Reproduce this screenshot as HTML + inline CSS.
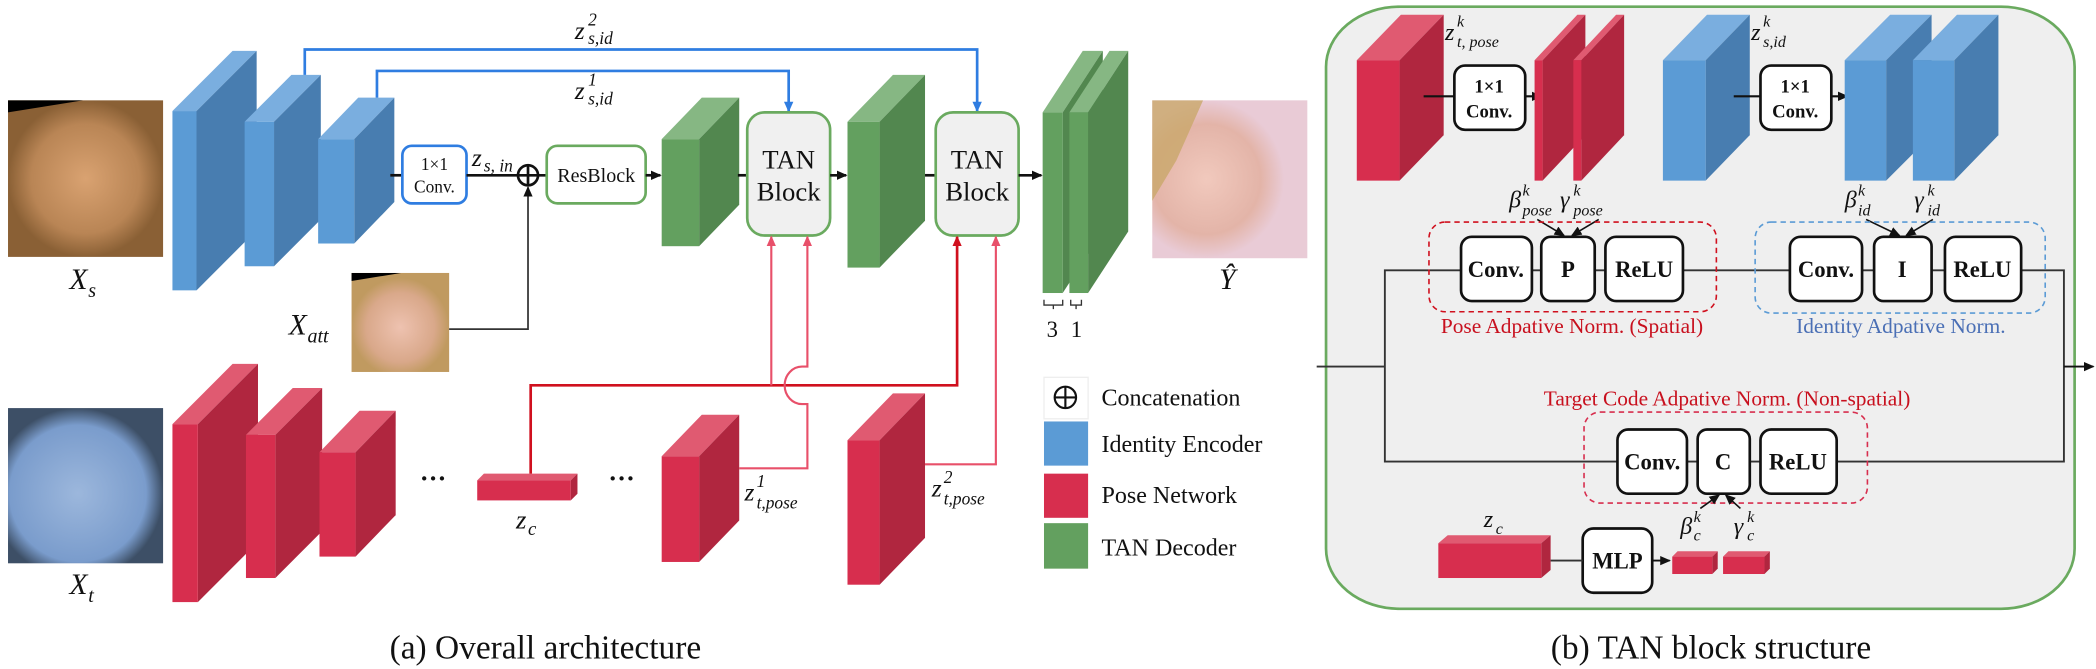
<!DOCTYPE html>
<html><head><meta charset="utf-8"><style>
html,body{margin:0;padding:0;background:#fff;width:2096px;height:669px;overflow:hidden}
svg{display:block}
text{font-family:"Liberation Serif",serif;fill:#111}
.m{font-style:italic}
.b{font-weight:bold}
</style></head><body>
<svg width="2096" height="669" viewBox="0 0 1568 500" preserveAspectRatio="none" xmlns="http://www.w3.org/2000/svg">
<defs>
<marker id="ak" markerWidth="8" markerHeight="8" refX="7" refY="4" orient="auto" markerUnits="userSpaceOnUse"><path d="M0,0.5 L8,4 L0,7.5z" fill="#111"/></marker>
<marker id="ab" markerWidth="8" markerHeight="8" refX="7" refY="4" orient="auto" markerUnits="userSpaceOnUse"><path d="M0,0.5 L8,4 L0,7.5z" fill="#2f7de1"/></marker>
<marker id="ar" markerWidth="8" markerHeight="8" refX="7" refY="4" orient="auto" markerUnits="userSpaceOnUse"><path d="M0,0.5 L8,4 L0,7.5z" fill="#d0101e"/></marker>
<marker id="al" markerWidth="8" markerHeight="8" refX="7" refY="4" orient="auto" markerUnits="userSpaceOnUse"><path d="M0,0.5 L8,4 L0,7.5z" fill="#e8506a"/></marker>
<radialGradient id="f1" cx="50%" cy="50%" r="50%"><stop offset="0" stop-color="#d9a271"/><stop offset="0.7" stop-color="#b98555"/><stop offset="1" stop-color="#8a6035"/></radialGradient>
<radialGradient id="f2" cx="50%" cy="55%" r="50%"><stop offset="0" stop-color="#eec2b0"/><stop offset="0.7" stop-color="#d9a88a"/><stop offset="1" stop-color="#c09a60"/></radialGradient>
<radialGradient id="f3" cx="45%" cy="55%" r="55%"><stop offset="0" stop-color="#9cb7dc"/><stop offset="0.8" stop-color="#7a9ccc"/><stop offset="1" stop-color="#3d4f66"/></radialGradient>
<radialGradient id="f4" cx="35%" cy="50%" r="50%"><stop offset="0" stop-color="#f1c9bd"/><stop offset="0.7" stop-color="#e3b4a8"/><stop offset="1" stop-color="#e9cbd6"/></radialGradient>
</defs>

<!-- photos -->
<rect x="6" y="75" width="116" height="117" fill="url(#f1)"/>
<path d="M6,75 L62,75 L6,84z" fill="#000"/>
<rect x="263" y="204" width="73" height="74" fill="url(#f2)"/>
<path d="M263,204 L300,204 L263,210z" fill="#000"/>
<rect x="6" y="305" width="116" height="116" fill="url(#f3)"/>
<rect x="862" y="75" width="116" height="118" fill="url(#f4)"/>
<path d="M862,75 L900,75 L880,120 L862,150z" fill="#c9a76a" opacity="0.8"/>

<text x="52" y="216" class="m" font-size="22">X</text><text x="66" y="222" class="m" font-size="15">s</text>
<text x="216" y="250" class="m" font-size="22">X</text><text x="230" y="256" class="m" font-size="15">att</text>
<text x="52" y="444" class="m" font-size="22">X</text><text x="66" y="450" class="m" font-size="15">t</text>
<text x="912" y="216" class="m" font-size="22">Ŷ</text>

<!-- blue encoder blocks -->
<g>
<path d="M129,83 L174,38 L192,38 L147,83z" fill="#7aaedf"/><path d="M147,83 L192,38 L192,172 L147,217z" fill="#487db0"/><rect x="129" y="83" width="18" height="134" fill="#5b9bd5"/>
<path d="M183,91 L218,56 L240,56 L205,91z" fill="#7aaedf"/><path d="M205,91 L240,56 L240,164 L205,199z" fill="#487db0"/><rect x="183" y="91" width="22" height="108" fill="#5b9bd5"/>
<path d="M238,104 L268,73 L295,73 L265,104z" fill="#7aaedf"/><path d="M265,104 L295,73 L295,151 L265,182z" fill="#487db0"/><rect x="238" y="104" width="27" height="78" fill="#5b9bd5"/>
</g>
<!-- red pose blocks left -->
<g>
<path d="M129,317 L174,272 L193,272 L148,317z" fill="#e05a71"/><path d="M148,317 L193,272 L193,405 L148,450z" fill="#b0263f"/><rect x="129" y="317" width="19" height="133" fill="#d72e4e"/>
<path d="M184,325 L219,290 L241,290 L206,325z" fill="#e05a71"/><path d="M206,325 L241,290 L241,397 L206,432z" fill="#b0263f"/><rect x="184" y="325" width="22" height="107" fill="#d72e4e"/>
<path d="M239,338 L269,307 L296,307 L266,338z" fill="#e05a71"/><path d="M266,338 L296,307 L296,385 L266,416z" fill="#b0263f"/><rect x="239" y="338" width="27" height="78" fill="#d72e4e"/>
</g>
<text x="314" y="364" font-size="20" class="b">···</text>
<text x="455" y="364" font-size="20" class="b">···</text>
<!-- z_c -->
<path d="M357,359 L362,354 L432,354 L427,359z" fill="#e05a71"/><path d="M427,359 L432,354 L432,369 L427,374z" fill="#b0263f"/><rect x="357" y="359" width="70" height="15" fill="#d72e4e"/>
<text x="386" y="395" class="m" font-size="20">z</text><text x="395" y="400" class="m" font-size="14">c</text>

<!-- red pose z1, z2 -->
<path d="M495,341 L525,310 L553,310 L523,341z" fill="#e05a71"/><path d="M523,341 L553,310 L553,389 L523,420z" fill="#b0263f"/><rect x="495" y="341" width="28" height="79" fill="#d72e4e"/>
<path d="M634,329 L668,294 L692,294 L658,329z" fill="#e05a71"/><path d="M658,329 L692,294 L692,402 L658,437z" fill="#b0263f"/><rect x="634" y="329" width="24" height="108" fill="#d72e4e"/>
<text x="557" y="374" class="m" font-size="19">z</text><text x="566" y="364" class="m" font-size="13">1</text><text x="566" y="380" class="m" font-size="13">t,pose</text>
<text x="697" y="371" class="m" font-size="19">z</text><text x="706" y="361" class="m" font-size="13">2</text><text x="706" y="377" class="m" font-size="13">t,pose</text>

<!-- green blocks -->
<path d="M495,104 L525,73 L553,73 L523,104z" fill="#86b783"/><path d="M523,104 L553,73 L553,153 L523,184z" fill="#52874f"/><rect x="495" y="104" width="28" height="80" fill="#63a05f"/>
<path d="M634,91 L668,56 L692,56 L658,91z" fill="#86b783"/><path d="M658,91 L692,56 L692,165 L658,200z" fill="#52874f"/><rect x="634" y="91" width="24" height="109" fill="#63a05f"/>
<!-- final slabs -->
<path d="M780,84 L810,38 L825,38 L795,84z" fill="#86b783"/><path d="M795,84 L825,38 L825,173 L795,219z" fill="#52874f"/><rect x="780" y="84" width="15" height="135" fill="#63a05f"/>
<path d="M800,84 L830,38 L844,38 L814,84z" fill="#86b783"/><path d="M814,84 L844,38 L844,173 L814,219z" fill="#52874f"/><rect x="800" y="84" width="14" height="135" fill="#63a05f"/>
<path d="M781,224 v4 h7 v3 M795,224 v4 h-7" fill="none" stroke="#333" stroke-width="1"/>
<path d="M801,224 v4 h4 v3 M809,224 v4 h-4" fill="none" stroke="#333" stroke-width="1"/>
<text x="783" y="252" font-size="17">3</text><text x="801" y="252" font-size="17">1</text>

<!-- blue skip lines -->
<path d="M228,56 V37 H731 V83" fill="none" stroke="#2f7de1" stroke-width="2" marker-end="url(#ab)"/>
<path d="M282,73 V53 H590 V83" fill="none" stroke="#2f7de1" stroke-width="2" marker-end="url(#ab)"/>
<text x="430" y="29" class="m" font-size="19">z</text><text x="440" y="19" class="m" font-size="13">2</text><text x="440" y="33" class="m" font-size="13">s,id</text>
<text x="430" y="74" class="m" font-size="19">z</text><text x="440" y="64" class="m" font-size="13">1</text><text x="440" y="78" class="m" font-size="13">s,id</text>

<!-- main path -->
<line x1="292" y1="131" x2="301" y2="131" stroke="#111" stroke-width="2"/>
<rect x="301" y="109" width="48" height="43" rx="7" fill="#fff" stroke="#2f7de1" stroke-width="2"/>
<text x="325" y="127" font-size="13" text-anchor="middle">1×1</text><text x="325" y="144" font-size="13" text-anchor="middle">Conv.</text>
<line x1="349" y1="131" x2="409" y2="131" stroke="#111" stroke-width="2"/>
<text x="353" y="124" class="m" font-size="19">z</text><text x="362" y="128" class="m" font-size="13">s, in</text>
<circle cx="395" cy="131" r="7.5" fill="#fff" stroke="#111" stroke-width="2"/>
<path d="M387.5,131 H402.5 M395,123.5 V138.5" stroke="#111" stroke-width="2"/>
<path d="M336,246 H395 V140" fill="none" stroke="#333" stroke-width="1.3" marker-end="url(#ak)"/>
<rect x="409" y="109" width="74" height="43" rx="8" fill="#fff" stroke="#6aaa5f" stroke-width="2"/>
<text x="446" y="136" font-size="15" text-anchor="middle">ResBlock</text>
<line x1="483" y1="131" x2="494" y2="131" stroke="#111" stroke-width="2" marker-end="url(#ak)"/>
<line x1="552" y1="131" x2="559" y2="131" stroke="#111" stroke-width="2"/>
<rect x="559" y="84" width="62" height="92" rx="13" fill="#f0f0f0" stroke="#6aaa5f" stroke-width="2"/>
<text x="590" y="126" font-size="20" text-anchor="middle">TAN</text><text x="590" y="150" font-size="20" text-anchor="middle">Block</text>
<line x1="621" y1="131" x2="633" y2="131" stroke="#111" stroke-width="2" marker-end="url(#ak)"/>
<line x1="692" y1="131" x2="700" y2="131" stroke="#111" stroke-width="2"/>
<rect x="700" y="84" width="62" height="92" rx="13" fill="#f0f0f0" stroke="#6aaa5f" stroke-width="2"/>
<text x="731" y="126" font-size="20" text-anchor="middle">TAN</text><text x="731" y="150" font-size="20" text-anchor="middle">Block</text>
<line x1="762" y1="131" x2="779" y2="131" stroke="#111" stroke-width="2" marker-end="url(#ak)"/>

<!-- red lines -->
<path d="M397,354 V288 H716 V177" fill="none" stroke="#d0101e" stroke-width="2" marker-end="url(#ar)"/>
<path d="M577,288 V177" fill="none" stroke="#e8506a" stroke-width="1.6" marker-end="url(#al)"/>
<path d="M553,350 H604 V302 H600 A13,14 0 0 1 600,274 H604 V177" fill="none" stroke="#e8506a" stroke-width="1.6" marker-end="url(#al)"/>
<path d="M692,347 H745 V177" fill="none" stroke="#e8506a" stroke-width="1.6" marker-end="url(#al)"/>

<!-- legend -->
<rect x="781" y="282" width="33" height="31" fill="#fff" stroke="#eee"/>
<circle cx="797" cy="297" r="8" fill="none" stroke="#111" stroke-width="1.6"/><path d="M789,297 H805 M797,289 V305" stroke="#111" stroke-width="1.6"/>
<rect x="781" y="315" width="33" height="33" fill="#5b9bd5"/>
<rect x="781" y="354" width="33" height="33" fill="#d72e4e"/>
<rect x="781" y="391" width="33" height="34" fill="#63a05f"/>
<text x="824" y="303" font-size="18">Concatenation</text>
<text x="824" y="338" font-size="18">Identity Encoder</text>
<text x="824" y="376" font-size="18">Pose Network</text>
<text x="824" y="415" font-size="18">TAN Decoder</text>

<text x="408" y="492" font-size="25" text-anchor="middle">(a)  Overall architecture</text>

<!-- right panel -->
<rect x="992" y="5" width="560" height="450" rx="55" ry="45" fill="#efefef" stroke="#6aaa5f" stroke-width="2"/>
<path d="M1015,45 L1048,11 L1080,11 L1047,45z" fill="#e05a71"/><path d="M1047,45 L1080,11 L1080,101 L1047,135z" fill="#b0263f"/><rect x="1015" y="45" width="32" height="90" fill="#d72e4e"/>
<text x="1081" y="30" class="m" font-size="18">z</text><text x="1090" y="20" class="m" font-size="12">k</text><text x="1090" y="35" class="m" font-size="12">t, pose</text>
<line x1="1065" y1="72" x2="1088" y2="72" stroke="#111" stroke-width="1.6"/>
<rect x="1088" y="49" width="53" height="48" rx="8" fill="#fff" stroke="#111" stroke-width="2"/>
<text x="1114" y="69" font-size="14" text-anchor="middle" class="b">1×1</text><text x="1114" y="88" font-size="14" text-anchor="middle" class="b">Conv.</text>
<line x1="1141" y1="72" x2="1153" y2="72" stroke="#111" stroke-width="1.6" marker-end="url(#ak)"/>
<path d="M1148,45 L1180,11 L1186,11 L1154,45z" fill="#e05a71"/><path d="M1154,45 L1186,11 L1186,101 L1154,135z" fill="#b0263f"/><rect x="1148" y="45" width="6" height="90" fill="#d72e4e"/>
<path d="M1177,45 L1209,11 L1215,11 L1183,45z" fill="#e05a71"/><path d="M1183,45 L1215,11 L1215,101 L1183,135z" fill="#b0263f"/><rect x="1177" y="45" width="6" height="90" fill="#d72e4e"/>

<path d="M1244,45 L1277,11 L1309,11 L1276,45z" fill="#7aaedf"/><path d="M1276,45 L1309,11 L1309,101 L1276,135z" fill="#487db0"/><rect x="1244" y="45" width="32" height="90" fill="#5b9bd5"/>
<text x="1310" y="30" class="m" font-size="18">z</text><text x="1319" y="20" class="m" font-size="12">k</text><text x="1319" y="35" class="m" font-size="12">s,id</text>
<line x1="1297" y1="72" x2="1317" y2="72" stroke="#111" stroke-width="1.6"/>
<rect x="1317" y="49" width="53" height="48" rx="8" fill="#fff" stroke="#111" stroke-width="2"/>
<text x="1343" y="69" font-size="14" text-anchor="middle" class="b">1×1</text><text x="1343" y="88" font-size="14" text-anchor="middle" class="b">Conv.</text>
<line x1="1370" y1="72" x2="1382" y2="72" stroke="#111" stroke-width="1.6" marker-end="url(#ak)"/>
<path d="M1380,45 L1414,11 L1445,11 L1411,45z" fill="#7aaedf"/><path d="M1411,45 L1445,11 L1445,101 L1411,135z" fill="#487db0"/><rect x="1380" y="45" width="31" height="90" fill="#5b9bd5"/>
<path d="M1431,45 L1464,11 L1495,11 L1462,45z" fill="#7aaedf"/><path d="M1462,45 L1495,11 L1495,101 L1462,135z" fill="#487db0"/><rect x="1431" y="45" width="31" height="90" fill="#5b9bd5"/>

<text x="1129" y="155" class="m" font-size="18">β</text><text x="1139" y="146" class="m" font-size="12">k</text><text x="1139" y="161" class="m" font-size="12">pose</text>
<text x="1167" y="155" class="m" font-size="18">γ</text><text x="1177" y="146" class="m" font-size="12">k</text><text x="1177" y="161" class="m" font-size="12">pose</text>
<line x1="1150" y1="164" x2="1170" y2="176" stroke="#111" stroke-width="1.2" marker-end="url(#ak)"/>
<line x1="1196" y1="164" x2="1176" y2="176" stroke="#111" stroke-width="1.2" marker-end="url(#ak)"/>
<text x="1380" y="155" class="m" font-size="18">β</text><text x="1390" y="146" class="m" font-size="12">k</text><text x="1390" y="161" class="m" font-size="12">id</text>
<text x="1432" y="155" class="m" font-size="18">γ</text><text x="1442" y="146" class="m" font-size="12">k</text><text x="1442" y="161" class="m" font-size="12">id</text>
<line x1="1396" y1="164" x2="1421" y2="176" stroke="#111" stroke-width="1.2" marker-end="url(#ak)"/>
<line x1="1446" y1="164" x2="1426" y2="176" stroke="#111" stroke-width="1.2" marker-end="url(#ak)"/>

<!-- wires -->
<path d="M985,274 H1036 V202 H1093 M1146,202 H1153 M1193,202 H1201 M1259,202 H1339 M1393,202 H1402 M1445,202 H1455 M1512,202 H1544 V345 H1374 M1036,274 V345 H1210 M1262,345 H1270 M1309,345 H1317" fill="none" stroke="#333" stroke-width="1.4"/>
<line x1="1544" y1="274" x2="1566" y2="274" stroke="#111" stroke-width="1.4" marker-end="url(#ak)"/>

<rect x="1069" y="166" width="215" height="67" rx="12" fill="none" stroke="#d0101e" stroke-width="1.2" stroke-dasharray="4,3"/>
<rect x="1313" y="166" width="217" height="68" rx="12" fill="none" stroke="#5b9bd5" stroke-width="1.2" stroke-dasharray="4,3"/>
<rect x="1185" y="308" width="212" height="68" rx="12" fill="none" stroke="#d72e4e" stroke-width="1.2" stroke-dasharray="4,3"/>

<g fill="#fff" stroke="#111" stroke-width="2">
<rect x="1093" y="177" width="53" height="48" rx="8"/><rect x="1153" y="177" width="40" height="48" rx="7"/><rect x="1201" y="177" width="58" height="48" rx="8"/>
<rect x="1339" y="177" width="54" height="48" rx="8"/><rect x="1402" y="177" width="43" height="48" rx="7"/><rect x="1455" y="177" width="57" height="48" rx="8"/>
<rect x="1210" y="321" width="52" height="48" rx="8"/><rect x="1270" y="321" width="39" height="48" rx="7"/><rect x="1317" y="321" width="57" height="48" rx="8"/>
<rect x="1184" y="395" width="52" height="48" rx="8"/>
</g>
<g font-size="17" class="b" text-anchor="middle">
<text x="1119" y="207" class="b">Conv.</text><text x="1173" y="207" class="b">P</text><text x="1230" y="207" class="b">ReLU</text>
<text x="1366" y="207" class="b">Conv.</text><text x="1423" y="207" class="b">I</text><text x="1483" y="207" class="b">ReLU</text>
<text x="1236" y="351" class="b">Conv.</text><text x="1289" y="351" class="b">C</text><text x="1345" y="351" class="b">ReLU</text>
<text x="1210" y="425" class="b">MLP</text>
</g>
<text x="1176" y="249" font-size="16" fill="#c8101e" text-anchor="middle" style="fill:#c8101e">Pose Adpative Norm. (Spatial)</text>
<text x="1422" y="249" font-size="16" text-anchor="middle" style="fill:#4a6fb5">Identity Adpative Norm.</text>
<text x="1292" y="303" font-size="16" text-anchor="middle" style="fill:#c8101e">Target Code Adpative Norm. (Non-spatial)</text>

<path d="M1076,406 L1083,400 L1160,400 L1153,406z" fill="#e05a71"/><path d="M1153,406 L1160,400 L1160,426 L1153,432z" fill="#b0263f"/><rect x="1076" y="406" width="77" height="26" fill="#d72e4e"/>
<text x="1110" y="394" class="m" font-size="18">z</text><text x="1119" y="399" class="m" font-size="12">c</text>
<line x1="1160" y1="419" x2="1184" y2="419" stroke="#333" stroke-width="1.4"/>
<line x1="1236" y1="419" x2="1249" y2="419" stroke="#111" stroke-width="1.4" marker-end="url(#ak)"/>
<path d="M1251,416 L1255,412 L1285,412 L1281,416z" fill="#e05a71"/><path d="M1281,416 L1285,412 L1285,425 L1281,429z" fill="#b0263f"/><rect x="1251" y="416" width="30" height="13" fill="#d72e4e"/>
<path d="M1289,416 L1293,412 L1324,412 L1320,416z" fill="#e05a71"/><path d="M1320,416 L1324,412 L1324,425 L1320,429z" fill="#b0263f"/><rect x="1289" y="416" width="31" height="13" fill="#d72e4e"/>
<text x="1257" y="399" class="m" font-size="18">β</text><text x="1267" y="390" class="m" font-size="12">k</text><text x="1267" y="404" class="m" font-size="12">c</text>
<text x="1297" y="399" class="m" font-size="18">γ</text><text x="1307" y="390" class="m" font-size="12">k</text><text x="1307" y="404" class="m" font-size="12">c</text>
<line x1="1272" y1="380" x2="1286" y2="370" stroke="#111" stroke-width="1.2" marker-end="url(#ak)"/>
<line x1="1302" y1="380" x2="1291" y2="370" stroke="#111" stroke-width="1.2" marker-end="url(#ak)"/>

<text x="1280" y="492" font-size="25" text-anchor="middle">(b)  TAN block structure</text>
</svg>
</body></html>
